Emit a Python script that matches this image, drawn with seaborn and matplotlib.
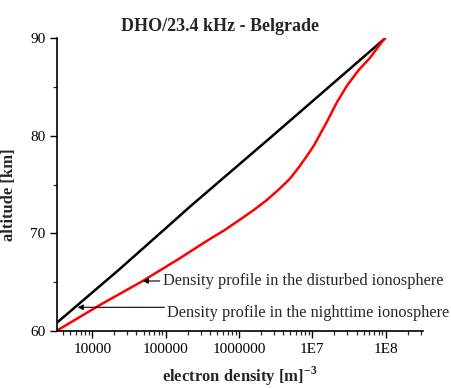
import numpy as np
import pandas as pd
import matplotlib
matplotlib.use("Agg")
import matplotlib.pyplot as plt
import seaborn as sns
from matplotlib.ticker import FixedLocator, FixedFormatter, LogLocator, NullFormatter

# Data (electron density in m^-3, altitude in km)
night_alt = [60.8, 66.2, 70.0, 72.8, 80.0, 90.0]
night_dens = [3.27e3, 2.26e4, 8.4e4, 2.2e5, 2.87e6, 9.8e7]

dist_alt = [60.0, 62.6, 65.1, 67.4, 69.3, 70.3, 71.4, 72.4, 73.4, 74.5,
            75.6, 76.8, 77.9, 79.0, 79.9, 81.4, 83.4, 85.1, 86.7, 88.0,
            89.6, 90.0]
dist_dens = [3.27e3, 1.245e4, 4.86e4, 1.535e5, 3.8e5, 6.3e5, 1.033e6,
             1.6e6, 2.39e6, 3.5e6, 4.95e6, 6.6e6, 8.37e6, 1.05e7, 1.22e7,
             1.57e7, 2.15e7, 2.94e7, 4.23e7, 6.11e7, 8.81e7, 9.77e7]

xticks = [1e4, 1e5, 1e6, 1e7, 1e8]
xticklabels = ["10000", "100000", "1000000", "1E7", "1E8"]
yticks = [60, 70, 80, 90]

title = "DHO/23.4 kHz - Belgrade"
label_dist = "Density profile in the disturbed ionosphere"
label_night = "Density profile in the nighttime ionosphere"

sns.set_style("ticks")
plt.rcParams['font.family'] = ['Liberation Serif', 'DejaVu Serif']
plt.rcParams['mathtext.fontset'] = 'custom'
plt.rcParams['mathtext.rm'] = 'Liberation Serif'
plt.rcParams['mathtext.bf'] = 'Liberation Serif:bold'

fig = plt.figure(figsize=(4.51, 3.89), dpi=100)
ax = fig.add_axes([0.1257, 0.1499, 0.8123, 0.7516])

night = pd.DataFrame({"dens": night_dens, "alt": night_alt})
dist = pd.DataFrame({"dens": dist_dens, "alt": dist_alt})

sns.lineplot(data=night, x="dens", y="alt", color="black", lw=1.8,
             estimator=None, sort=False, ax=ax)
sns.lineplot(data=dist, x="dens", y="alt", color="#ff0000", lw=1.8,
             estimator=None, sort=False, ax=ax, solid_joinstyle="round")

ax.set_xscale("log")
ax.set_xlim(3266, 3.23e8)
ax.set_ylim(60, 90)

ax.xaxis.set_major_locator(FixedLocator(xticks))
ax.xaxis.set_major_formatter(FixedFormatter(xticklabels))
ax.xaxis.set_minor_locator(LogLocator(base=10, subs=np.arange(2, 10)))
ax.xaxis.set_minor_formatter(NullFormatter())
ax.set_yticks(yticks)
ax.set_yticks([65, 75, 85], minor=True)

for s in ["top", "right"]:
    ax.spines[s].set_visible(False)
for s in ["left", "bottom"]:
    ax.spines[s].set_linewidth(1.2)
    ax.spines[s].set_color("black")

ax.tick_params(which="major", direction="out", length=5, width=1.0,
               labelsize=11, colors="black")
ax.tick_params(which="minor", direction="out", length=3, width=0.9)
ax.tick_params(axis="x", which="major", pad=4)
ax.tick_params(axis="y", which="major", pad=3)

fig.text(0.488, 0.932, title, fontsize=13, fontweight="bold",
         ha="center", va="center")
ax.set_xlabel(r"electron density [m]$^{\mathbf{-3}}$", fontsize=12,
              fontweight="bold", labelpad=6)
ax.set_ylabel("altitude [km]", fontsize=12, fontweight="bold")
ax.yaxis.set_label_coords(-0.108, 0.464)

arrowprops = dict(arrowstyle="-|>", color="black", lw=0.8,
                  mutation_scale=8, shrinkA=0, shrinkB=0)
ax.annotate(label_dist, xy=(4.86e4, 65.1), xytext=(9.2e4, 65.1),
            fontsize=11.8, va="center", ha="left",
            arrowprops=arrowprops)
ax.annotate("", xy=(6.3e3, 62.4), xytext=(9.6e4, 62.4),
            arrowprops=arrowprops)
ax.text(1.04e5, 61.85, label_night, fontsize=11.8, va="center", ha="left")

fig.savefig("out.png", dpi=100)
